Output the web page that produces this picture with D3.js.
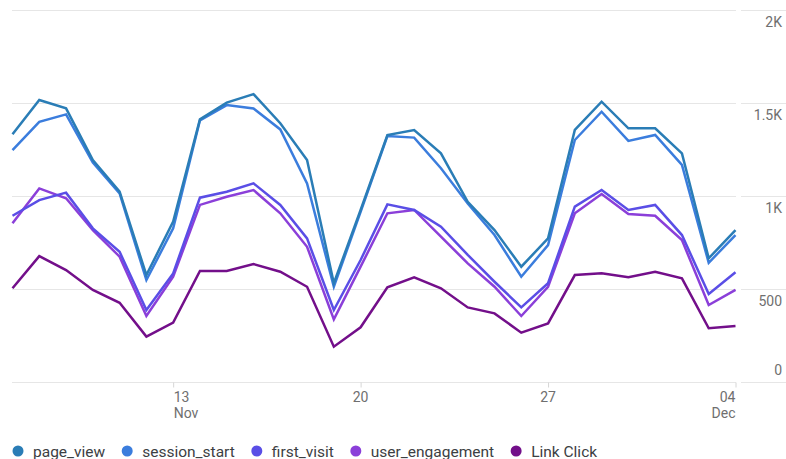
<!DOCTYPE html>
<html>
<head>
<meta charset="utf-8">
<script src="https://cdn.jsdelivr.net/npm/d3@7"></script>
<style>
  body { margin: 0; background: #fff; }
  text { font-family: Roboto, "Noto Sans", sans-serif; }
</style>
</head>
<body>
<div class="chart"></div>
<script>
// Data
const days = [
  "2022-11-07", "2022-11-08", "2022-11-09", "2022-11-10", "2022-11-11", "2022-11-12", "2022-11-13",
  "2022-11-14", "2022-11-15", "2022-11-16", "2022-11-17", "2022-11-18", "2022-11-19", "2022-11-20",
  "2022-11-21", "2022-11-22", "2022-11-23", "2022-11-24", "2022-11-25", "2022-11-26", "2022-11-27",
  "2022-11-28", "2022-11-29", "2022-11-30", "2022-12-01", "2022-12-02", "2022-12-03", "2022-12-04"
];
const pageView = [1332, 1516, 1471, 1193, 1023, 575, 862, 1412, 1502, 1548, 1391, 1193, 531, 925,
  1328, 1355, 1229, 969, 817, 620, 772, 1355, 1507, 1364, 1364, 1229, 665, 817];
const sessionStart = [1247, 1399, 1439, 1180, 1014, 548, 826, 1407, 1489, 1471, 1358, 1068, 512, 915,
  1322, 1314, 1149, 960, 790, 566, 736, 1301, 1453, 1296, 1328, 1167, 641, 790];
const firstVisit = [894, 978, 1018, 826, 700, 387, 584, 991, 1023, 1068, 952, 772, 387, 656,
  955, 925, 835, 683, 539, 401, 531, 943, 1032, 925, 952, 790, 473, 590];
const userEngagement = [853, 1041, 988, 817, 674, 355, 566, 952, 996, 1032, 907, 727, 337, 620,
  907, 925, 781, 638, 512, 355, 512, 907, 1011, 903, 894, 763, 414, 495];
const linkClick = [504, 677, 602, 495, 426, 244, 319, 597, 597, 634, 593, 512, 190, 294,
  509, 563, 504, 401, 369, 265, 315, 575, 584, 563, 593, 557, 289, 301];

const seriesNames = ["page_view", "session_start", "first_visit", "user_engagement", "Link Click"];
const seriesColors = ["#2a7db6", "#3b7ddd", "#5a4ee6", "#8b3fd9", "#730f8a"];
const yTicks = [0, 500, 1000, 1500, 2000];
const yTickLabels = ["0", "500", "1K", "1.5K", "2K"];
const xTicks = ["2022-11-13", "2022-11-20", "2022-11-27", "2022-12-04"];
const xDayLabels = ["13", "20", "27", "04"];
const xMonthLabels = ["Nov", "", "", "Dec"];

const svgWidth = 786;
const svgHeight = 459;

const parseDay = d3.timeParse("%Y-%m-%d");
const dates = days.map(parseDay);
const allSeries = [pageView, sessionStart, firstVisit, userEngagement, linkClick];

const svg = d3.select(".chart")
  .append("svg")
  .attr("width", svgWidth)
  .attr("height", svgHeight);

const x = d3.scaleTime()
  .domain([dates[0], dates[dates.length - 1]])
  .range([12.5, 735.5]);

const y = d3.scaleLinear()
  .domain([0, 2000])
  .range([382, 10]);

// gridlines (plot part + short part under the labels)
const grid = svg.append("g");
grid.selectAll("line.g1")
  .data(yTicks)
  .enter()
  .append("line")
  .attr("x1", 12)
  .attr("x2", 736)
  .attr("y1", d => Math.round(y(d)) + 0.5)
  .attr("y2", d => Math.round(y(d)) + 0.5)
  .attr("stroke", "#e6e6e6");
grid.selectAll("line.g2")
  .data(yTicks)
  .enter()
  .append("line")
  .attr("x1", 741)
  .attr("x2", 786)
  .attr("y1", d => Math.round(y(d)) + 0.5)
  .attr("y2", d => Math.round(y(d)) + 0.5)
  .attr("stroke", "#e6e6e6");

// y labels on the right
svg.append("g")
  .selectAll("text")
  .data(yTicks)
  .enter()
  .append("text")
  .attr("x", 782)
  .attr("y", (d, i) => d === 0 ? y(d) - 7 : y(d) + 17)
  .attr("text-anchor", "end")
  .attr("font-size", 14)
  .attr("fill", "#6f6f6f")
  .text((d, i) => yTickLabels[i]);

// x axis
const tickDates = xTicks.map(parseDay);
const xAxis = svg.append("g")
  .attr("transform", `translate(0, ${Math.round(y(0)) + 0.5})`)
  .call(d3.axisBottom(x).tickValues(tickDates).tickSize(5).tickFormat(""));
xAxis.select(".domain").remove();
xAxis.selectAll(".tick line").attr("stroke", "#d6d6d6");

const anchors = ["start", "middle", "middle", "end"];
tickDates.forEach((d, i) => {
  const tx = x(d) + (i === 0 ? 0.5 : 0);
  svg.append("text")
    .attr("x", tx)
    .attr("y", 402)
    .attr("text-anchor", anchors[i])
    .attr("font-size", 14)
    .attr("fill", "#6f6f6f")
    .text(xDayLabels[i]);
  if (xMonthLabels[i]) {
    svg.append("text")
      .attr("x", tx)
      .attr("y", 418)
      .attr("text-anchor", anchors[i])
      .attr("font-size", 14)
      .attr("fill", "#6f6f6f")
      .text(xMonthLabels[i]);
  }
});

// lines
const line = d3.line()
  .x((d, i) => x(dates[i]))
  .y(d => y(d));

const order = [4, 3, 2, 1, 0];
svg.append("g")
  .selectAll("path")
  .data(order)
  .enter()
  .append("path")
  .attr("d", k => line(allSeries[k]))
  .attr("fill", "none")
  .attr("stroke", k => seriesColors[k])
  .attr("stroke-width", 2.5);

// legend
const legend = svg.append("g").attr("transform", "translate(0, 451)");
let lx = 18;
seriesNames.forEach((name, i) => {
  legend.append("circle")
    .attr("cx", lx)
    .attr("cy", 0)
    .attr("r", 5.5)
    .attr("fill", seriesColors[i]);
  const t = legend.append("text")
    .attr("x", lx + 15)
    .attr("y", 5.5)
    .attr("font-size", 15.5)
    .attr("fill", "#3c4043")
    .text(name);
  lx += 15 + t.node().getComputedTextLength() + 22;
});
</script>
</body>
</html>
